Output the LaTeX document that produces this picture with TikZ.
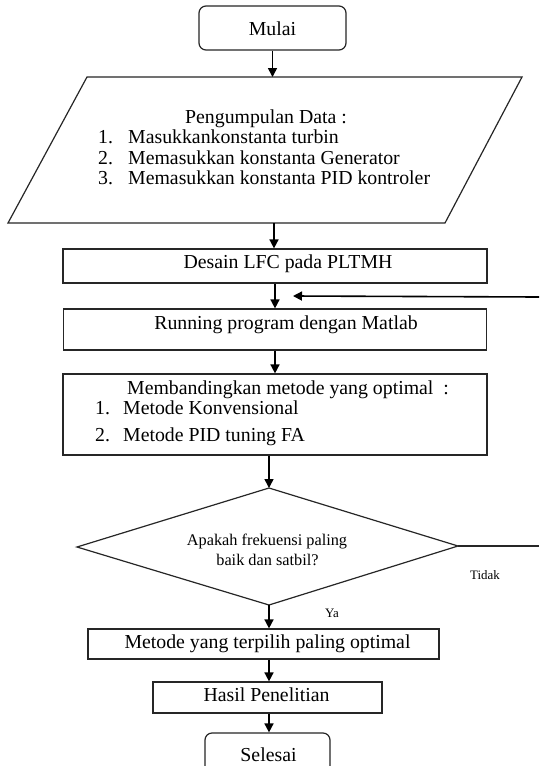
\documentclass[tikz,border=0pt]{standalone}
\usepackage{fontspec}
\setmainfont{Liberation Serif}
\usetikzlibrary{arrows.meta}
\begin{document}
\begin{tikzpicture}[x=1pt,y=-1pt]
\tikzset{
 frame/.style={draw=black!85, line width=1.2pt, inner sep=0pt},
 conn/.style={draw=black!85, line width=1.3pt},
 arr/.style={draw=black, line width=1.6pt, -{Triangle[length=9pt,width=9pt]}},
 big/.style={font=\fontsize{19.8}{20}\selectfont, inner sep=0pt, anchor=base},
 bigl/.style={big, anchor=base west},
 mid/.style={font=\fontsize{16.3}{17}\selectfont, inner sep=0pt, anchor=base},
 small/.style={font=\fontsize{12.9}{13}\selectfont, inner sep=0pt, anchor=base},
}
\useasboundingbox (0,0) rectangle (539,766);
\clip (0,0) rectangle (539,766);
\fill[white] (0,0) rectangle (539,766);

% Mulai
\node[frame, rounded corners=7pt, minimum width=147pt, minimum height=44pt] (mulai) at (272.5,28) {};
\node[big] (tmulai) at (272.5,35) {Mulai};

% Data input parallelogram
\coordinate (p1) at (87,77);
\coordinate (p2) at (522,77);
\coordinate (p3) at (445,223);
\coordinate (p4) at (8,223);
\draw[frame] (p1) -- (p2) -- (p3) -- (p4) -- cycle;
\coordinate (dtop) at (272.5,77);
\coordinate (dbot) at (274,223);
\node[big] (th) at (266,123) {Pengumpulan Data :};
\node[bigl] (n1) at (98,143) {1.};
\node[bigl] (i1) at (128,143) {Masukkankonstanta turbin};
\node[bigl] (n2) at (98,164) {2.};
\node[bigl] (i2) at (128,164) {Memasukkan konstanta Generator};
\node[bigl] (n3) at (98,184) {3.};
\node[bigl] (i3) at (128,184) {Memasukkan konstanta PID kontroler};

% Desain
\node[frame, minimum width=424pt, minimum height=34pt] (desain) at (275,266) {};
\node[big] (tdesain) at (288,268) {Desain LFC pada PLTMH};

% Running
\node[frame, minimum width=423pt, minimum height=41pt] (running) at (275,329.5) {};
\node[big] (trunning) at (286,329) {Running program dengan Matlab};

% Membandingkan
\node[frame, minimum width=424pt, minimum height=81pt] (banding) at (275,414.5) {};
\node[big] (tband) at (288,394) {Membandingkan metode yang optimal\ \ :};
\node[bigl] (b1) at (95,414) {1.};
\node[bigl] (bi1) at (123,414) {Metode Konvensional};
\node[bigl] (b2) at (95,441) {2.};
\node[bigl] (bi2) at (123,441) {Metode PID tuning FA};

% Decision
\coordinate (dT) at (269,488);
\coordinate (dL) at (77,547);
\coordinate (dR) at (458,546);
\coordinate (dB) at (269,605);
\draw[frame] (dT) -- (dR) -- (dB) -- (dL) -- cycle;
\node[mid] (q1) at (267,545) {Apakah frekuensi paling};
\node[mid] (q2) at (267.5,565) {baik dan satbil?};
\coordinate (tidakend) at (539,546);
\node[small] (ttidak) at (485,579) {Tidak};
\node[small] (tya) at (332,617) {Ya};

% Metode terpilih
\node[frame, minimum width=351pt, minimum height=30pt] (metode) at (263.5,644) {};
\node[big] (tmetode) at (267.5,648) {Metode yang terpilih paling optimal};

% Hasil
\node[frame, minimum width=229pt, minimum height=31pt] (hasil) at (267.5,697.5) {};
\node[big] (thasil) at (266.5,701) {Hasil Penelitian};

% Selesai
\node[frame, rounded corners=7pt, minimum width=125pt, minimum height=44pt] (selesai) at (267.5,755) {};
\node[big] (tselesai) at (268.5,761) {Selesai};

% Feedback
\coordinate (fbstart) at (539,297);
\coordinate (fbend) at (293,296);

% Connectors
\draw[arr] (mulai.south) -- (dtop);
\draw[arr] (dbot) -- (dbot |- desain.north);
\draw[arr] (desain.south) -- (desain.south |- running.north);
\draw[arr] (running.south) -- (running.south |- banding.north);
\draw[arr] (banding.south -| dT) -- (dT);
\draw[arr] (dB) -- (dB |- metode.north);
\draw[arr] (metode.south -| dB) -- (dB |- hasil.north);
\draw[arr] (hasil.south -| dB) -- (dB |- selesai.north);
\draw[conn] (dR) -- (tidakend);
\draw[arr] (fbstart) -- (fbend);
\end{tikzpicture}
\end{document}
